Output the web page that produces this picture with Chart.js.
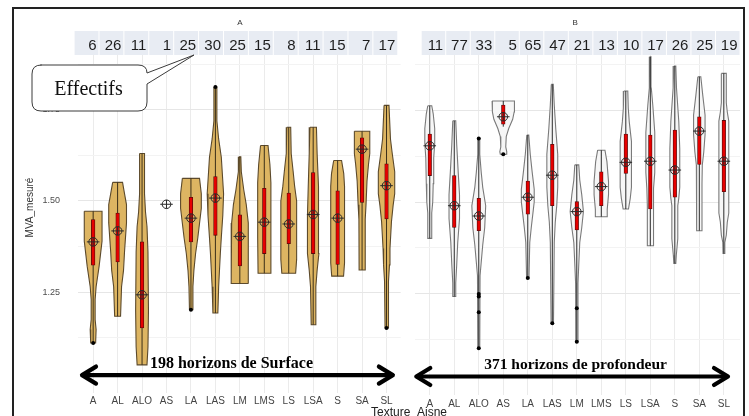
<!DOCTYPE html>
<html><head><meta charset="utf-8">
<script src="https://cdn.jsdelivr.net/npm/chart.js@4"></script>
<style>
html,body{margin:0;padding:0;background:#fff;width:749px;height:416px;overflow:hidden;}
#ca{position:absolute;left:0;top:0;}
#cb{position:absolute;left:408px;top:0;}
#xt{position:absolute;left:0;width:818px;top:405px;text-align:center;font:12px "Liberation Sans",Arial,sans-serif;color:#222;}
#frame{position:absolute;left:12px;top:7px;width:733px;height:440px;border:2px solid #222;box-sizing:border-box;pointer-events:none;}
</style></head><body>
<canvas id="ca" width="408" height="416"></canvas>
<canvas id="cb" width="341" height="416"></canvas>
<div id="xt">Texture_Aisne</div>
<div id="frame"></div>
<script>
// ---------- DATA ----------
const categories = ["A","AL","ALO","AS","LA","LAS","LM","LMS","LS","LSA","S","SA","SL"];
const yTickValues = [1.25, 1.5, 1.75];
const yTickLabels = ["1.25", "1.50", "1.75"];
const yMinorValues = [1.125, 1.375, 1.625, 1.875];

// Panel A : 198 horizons de Surface
const countsA = [6, 26, 11, 1, 25, 30, 25, 15, 8, 11, 15, 7, 17];
const meansA  = [1.388, 1.418, 1.243, 1.491, 1.453, 1.508, 1.403, 1.442, 1.437, 1.463, 1.453, 1.642, 1.542];
const q1A     = [1.324, 1.333, 1.152, null, 1.388, 1.406, 1.322, 1.356, 1.383, 1.356, 1.326, 1.496, 1.451];
const q3A     = [1.449, 1.467, 1.388, null, 1.510, 1.567, 1.462, 1.535, 1.522, 1.578, 1.528, 1.673, 1.602];
const whiskLoA = [1.111, 1.184, 1.051, null, 1.202, 1.193, 1.274, 1.302, 1.302, 1.161, 1.294, 1.311, 1.152];
const whiskHiA = [1.472, 1.551, 1.630, null, 1.562, 1.812, 1.621, 1.652, 1.702, 1.702, 1.611, 1.691, 1.762];
const outliersA = [[0, 1.111], [4, 1.202], [5, 1.812], [12, 1.152]];
// violin profiles: [value, relative density] from top to bottom
const violinsA = [
  [[1.472,9],[1.39,9],[1.32,6],[1.265,3],[1.23,2],[1.175,2],[1.148,3],[1.111,2.5]],
  [[1.551,5],[1.52,7],[1.49,9],[1.44,9],[1.36,7],[1.31,6],[1.265,4],[1.184,3]],
  [[1.630,2.5],[1.52,2.5],[1.47,3.5],[1.43,5],[1.36,6],[1.2,6.5],[1.1,6],[1.051,5]],
  null,
  [[1.562,8.7],[1.52,10.5],[1.48,10.5],[1.40,7],[1.356,4.7],[1.31,3],[1.265,2],[1.202,1.5]],
  [[1.812,1.5],[1.72,1.5],[1.67,3.3],[1.62,6],[1.52,8.3],[1.46,7.5],[1.40,6],[1.356,5],[1.265,3.3],[1.193,2.5]],
  [[1.621,1],[1.58,1.5],[1.53,4],[1.49,6.5],[1.44,8.3],[1.36,8.8],[1.274,8.7]],
  [[1.652,3.8],[1.60,5.7],[1.55,6.7],[1.40,6.7],[1.302,6.3]],
  [[1.702,2],[1.63,2.5],[1.58,4.5],[1.54,6],[1.50,8],[1.34,8],[1.302,7]],
  [[1.702,3.3],[1.63,4],[1.54,5],[1.46,5.8],[1.356,5.8],[1.31,4],[1.265,2.7],[1.161,2]],
  [[1.611,4],[1.575,6.2],[1.54,7],[1.33,7],[1.294,6]],
  [[1.691,7.8],[1.63,7.8],[1.60,6.5],[1.555,5],[1.49,4],[1.45,3.2],[1.311,3]],
  [[1.762,2.5],[1.67,4],[1.63,5.8],[1.58,8.3],[1.52,8.3],[1.488,6.7],[1.443,5],[1.37,3.5],[1.325,3],[1.28,2],[1.152,1.5]]
];

// Panel B : 371 horizons de profondeur
const countsB = [11, 77, 33, 5, 65, 47, 21, 13, 10, 17, 26, 25, 19];
const meansB  = [1.653, 1.490, 1.462, 1.732, 1.513, 1.573, 1.474, 1.542, 1.608, 1.611, 1.587, 1.693, 1.611];
const q1B     = [1.572, 1.431, 1.422, 1.712, 1.467, 1.490, 1.424, 1.490, 1.578, 1.481, 1.513, 1.602, 1.528];
const q3B     = [1.685, 1.572, 1.510, 1.764, 1.557, 1.657, 1.501, 1.582, 1.685, 1.682, 1.696, 1.732, 1.722];
const whiskLoB = [1.401, 1.243, 1.102, 1.705, 1.293, 1.170, 1.120, 1.460, 1.481, 1.381, 1.333, 1.422, 1.360];
const whiskHiB = [1.762, 1.721, 1.673, 1.775, 1.682, 1.820, 1.601, 1.641, 1.802, 1.895, 1.870, 1.841, 1.850];
const outliersB = [[2, 1.673], [2, 1.250], [2, 1.243], [2, 1.200], [2, 1.102], [3, 1.630], [4, 1.293], [5, 1.170], [6, 1.211], [6, 1.120]];
const violinsB = [
  [[1.762,2],[1.74,3.5],[1.70,5],[1.66,5],[1.62,4],[1.55,3.5],[1.50,3],[1.47,2],[1.401,2]],
  [[1.721,1.5],[1.655,2.5],[1.58,4],[1.52,5.3],[1.455,5.3],[1.39,3.5],[1.33,2.5],[1.28,1.5],[1.243,1.5]],
  [[1.673,1],[1.63,1],[1.58,2.5],[1.54,4],[1.49,7],[1.43,6],[1.383,4],[1.337,2.5],[1.30,1.3],[1.102,1]],
  [[1.775,11.3],[1.745,11],[1.725,9.5],[1.70,5.5],[1.678,3],[1.65,2.5],[1.637,3.5],[1.630,3]],
  [[1.682,1],[1.63,2.5],[1.58,4.5],[1.535,6.5],[1.50,6.5],[1.465,5],[1.43,3.5],[1.39,2],[1.293,1.2]],
  [[1.820,1],[1.764,2],[1.70,3.5],[1.63,5.5],[1.54,5.5],[1.49,4.5],[1.445,3],[1.39,2],[1.17,1.2]],
  [[1.601,2],[1.56,3],[1.52,5],[1.474,6.7],[1.43,5],[1.39,3],[1.33,2],[1.28,1.2],[1.12,1]],
  [[1.641,3.7],[1.61,5.7],[1.556,7.3],[1.52,7.3],[1.48,6],[1.460,6]],
  [[1.802,2],[1.755,2.5],[1.718,3.5],[1.665,5.7],[1.54,5.7],[1.51,4.5],[1.481,2.7]],
  [[1.895,0.7],[1.81,1],[1.764,2.5],[1.69,4.5],[1.58,4.5],[1.537,3.5],[1.49,3],[1.381,3]],
  [[1.870,1],[1.81,1.7],[1.72,4],[1.645,5],[1.54,5],[1.51,4],[1.49,3],[1.40,3],[1.355,1.5],[1.333,1]],
  [[1.841,1.5],[1.79,3.5],[1.737,5.8],[1.683,5.8],[1.636,4.5],[1.60,3],[1.55,2.7],[1.422,2.7]],
  [[1.850,2.5],[1.77,2.5],[1.745,3.5],[1.72,5],[1.47,5],[1.445,3.5],[1.41,2.5],[1.39,1],[1.36,0.8]]
];

// ---------- RENDERING ----------
const DENS = 1 / 24.77;
const FONT = '"Liberation Sans", Arial, sans-serif';
Chart.defaults.font.family = FONT;
Chart.defaults.animation = false;

function buildDatasets(violins, means, q1, q3, wLo, wHi, outliers, st) {
  const ds = [];
  violins.forEach((prof, i) => {
    if (!prof) return;
    const left = prof.map(([v, d]) => ({x: i - d * DENS, y: v}));
    const right = prof.slice().reverse().map(([v, d]) => ({x: i + d * DENS, y: v}));
    ds.push({type: 'scatter', data: left.concat(right, [left[0]]), showLine: true, fill: 'shape',
      backgroundColor: st.fill, borderColor: st.edge, borderWidth: 1.1, pointRadius: 0, tension: 0, order: 5});
  });
  wLo.forEach((lo, i) => {
    if (lo == null) return;
    ds.push({type: 'scatter', data: [{x: i, y: lo}, {x: i, y: wHi[i]}], showLine: true,
      borderColor: st.whisker, borderWidth: 1, pointRadius: 0, order: 4});
  });
  const bars = [];
  q1.forEach((q, i) => { if (q != null) bars.push({x: i, y: [q, q3[i]]}); });
  ds.push({type: 'bar', data: bars, backgroundColor: '#e60000', borderColor: '#5a0a0a', borderWidth: 0.8,
    borderSkipped: false, barThickness: 3.6, order: 3});
  const mp = means.map((m, i) => ({x: i, y: m}));
  ds.push({type: 'scatter', data: mp, pointStyle: 'circle', pointRadius: 4.3, pointBackgroundColor: 'rgba(0,0,0,0)',
    pointBorderColor: '#2a2a2a', pointBorderWidth: 1, order: 2});
  ds.push({type: 'scatter', data: mp, pointStyle: 'line', pointRadius: 6.3, pointBorderColor: '#2a2a2a', pointBorderWidth: 1, order: 2});
  ds.push({type: 'scatter', data: mp, pointStyle: 'line', rotation: 90, pointRadius: 4.3, pointBorderColor: '#2a2a2a', pointBorderWidth: 1, order: 2});
  ds.push({type: 'scatter', data: outliers.map(([i, v]) => ({x: i, y: v})), pointStyle: 'circle', pointRadius: 2,
    pointBackgroundColor: '#000', pointBorderColor: '#000', pointBorderWidth: 0, order: 1});
  return ds;
}

function drawArrow(ctx, xa, xb, y) {
  ctx.strokeStyle = '#000'; ctx.lineWidth = 4.2; ctx.lineCap = 'round'; ctx.lineJoin = 'round';
  ctx.beginPath(); ctx.moveTo(xa + 1, y); ctx.lineTo(xb - 1, y); ctx.stroke();
  ctx.beginPath(); ctx.moveTo(xa + 14, y - 8.5); ctx.lineTo(xa, y); ctx.lineTo(xa + 14, y + 8.5); ctx.stroke();
  ctx.beginPath(); ctx.moveTo(xb - 14, y - 8.5); ctx.lineTo(xb, y); ctx.lineTo(xb - 14, y + 8.5); ctx.stroke();
}

function decoPlugin(p) {
  return {
    id: 'deco',
    afterDraw(chart) {
      const ctx = chart.ctx, xs = chart.scales.x, ys = chart.scales.y, ca = chart.chartArea;
      ctx.save();
      // facet label
      ctx.fillStyle = '#333'; ctx.font = '8px ' + FONT; ctx.textAlign = 'center'; ctx.textBaseline = 'middle';
      ctx.fillText(p.label, xs.getPixelForValue(p.labelX), ca.top - 32);
      // count cells
      const x0 = xs.getPixelForValue(p.cellFrom), x1 = xs.getPixelForValue(p.cellTo);
      const n = p.counts.length, w = (x1 - x0) / n;
      ctx.font = '15px ' + FONT; ctx.textAlign = 'right'; ctx.textBaseline = 'alphabetic';
      for (let i = 0; i < n; i++) {
        ctx.fillStyle = '#e8ecf3';
        ctx.fillRect(x0 + i * w + 0.5, ca.top - 24, w - 1, 24);
        ctx.fillStyle = '#1e1e1e';
        ctx.fillText(String(p.counts[i]), x0 + (i + 1) * w - 2.5, ca.top - 5.5);
      }
      // arrow + caption
      const ay = ys.getPixelForValue(p.arrowY);
      drawArrow(ctx, xs.getPixelForValue(p.arrowFrom), xs.getPixelForValue(p.arrowTo), ay);
      ctx.fillStyle = '#000'; ctx.textAlign = 'center';
      ctx.font = 'bold ' + p.capSize + 'px "Liberation Serif", "Times New Roman", serif';
      ctx.fillText(p.caption, xs.getPixelForValue(p.capX), ys.getPixelForValue(p.capY));
      if (p.yTitle) {
        ctx.save();
        ctx.translate(30.5, 207.5); ctx.rotate(-Math.PI / 2);
        ctx.fillStyle = '#333'; ctx.font = '10px ' + FONT; ctx.textBaseline = 'middle';
        ctx.fillText(p.yTitle, 0, 0);
        ctx.restore();
      }
      if (p.callout) {
        ctx.beginPath();
        ctx.moveTo(41, 65); ctx.lineTo(138, 65); ctx.quadraticCurveTo(147, 65, 147, 73);
        ctx.lineTo(194, 55); ctx.lineTo(147, 84); ctx.lineTo(147, 102);
        ctx.quadraticCurveTo(147, 111, 138, 111); ctx.lineTo(41, 111);
        ctx.quadraticCurveTo(32, 111, 32, 102); ctx.lineTo(32, 74);
        ctx.quadraticCurveTo(32, 65, 41, 65); ctx.closePath();
        ctx.fillStyle = '#fff'; ctx.fill();
        ctx.strokeStyle = '#3a3a3a'; ctx.lineWidth = 1; ctx.lineJoin = 'miter'; ctx.stroke();
        ctx.fillStyle = '#111'; ctx.font = '20px "Liberation Serif", "Times New Roman", serif';
        ctx.textAlign = 'center'; ctx.fillText('Effectifs', 88.5, 94.5);
      }
      ctx.restore();
    }
  };
}

function makeChart(id, ds, p) {
  return new Chart(document.getElementById(id), {
    type: 'scatter',
    data: {datasets: ds},
    options: {
      responsive: false, animation: false, events: [],
      layout: {padding: p.padding},
      plugins: {legend: {display: false}, tooltip: {enabled: false}},
      scales: {
        x: {
          type: 'linear', min: p.xMin, max: p.xMax, offset: false,
          afterBuildTicks: s => { s.ticks = categories.map((c, i) => ({value: i})); },
          afterFit: s => { s.height = 21; },
          border: {display: false},
          grid: {color: '#ebebeb', lineWidth: 1, drawTicks: false, offset: false},
          ticks: {autoSkip: false, maxRotation: 0, padding: 3, color: '#444', font: {size: 10},
            callback: v => categories[v]}
        },
        y: {
          type: 'linear', min: 0.975, max: 1.9,
          afterBuildTicks: s => { s.ticks = yMinorValues.concat(yTickValues).sort((a, b) => a - b).map(v => ({value: v})); },
          afterFit: s => { s.width = p.yWidth; },
          border: {display: false},
          grid: {drawTicks: false, lineWidth: 1,
            color: c => yTickValues.includes(c.tick.value) ? '#e6e6e6' : '#f3f3f3'},
          ticks: {display: p.showY, padding: 18, color: '#4d4d4d', font: {size: 9},
            callback: v => { const k = yTickValues.indexOf(v); return k >= 0 ? yTickLabels[k] : ''; }}
        }
      }
    },
    plugins: [decoPlugin(p)]
  });
}

const styleA = {fill: '#ddb562', edge: '#5c4a2c', whisker: '#3a2e18'};
const styleB = {fill: '#f6f6f6', edge: '#7a7a7a', whisker: '#2a2a2a'};

makeChart('ca', buildDatasets(violinsA, meansA, q1A, q3A, whiskLoA, whiskHiA, outliersA, styleA), {
  padding: {top: 55, right: 3, left: 0, bottom: 0}, yWidth: 78, showY: true, xMin: -0.62, xMax: 12.58,
  label: 'A', labelX: 6, counts: countsA, cellFrom: -0.78, cellTo: 12.46,
  arrowFrom: -0.456, arrowTo: 12.26, arrowY: 1.023,
  caption: '198 horizons de Surface', capX: 5.66, capY: 1.0416, capSize: 16,
  yTitle: 'MVA_mesuré', callout: true
});
makeChart('cb', buildDatasets(violinsB, meansB, q1B, q3B, whiskLoB, whiskHiB, outliersB, styleB), {
  padding: {top: 55, right: 9, left: 0, bottom: 0}, yWidth: 4, showY: false, xMin: -0.59, xMax: 12.66,
  label: 'B', labelX: 5.93, counts: countsB, cellFrom: -0.35, cellTo: 12.66,
  arrowFrom: -0.55, arrowTo: 12.17, arrowY: 1.0253,
  caption: '371 horizons de profondeur', capX: 5.95, capY: 1.0454, capSize: 15.5,
  yTitle: null, callout: false
});
</script>
</body></html>
